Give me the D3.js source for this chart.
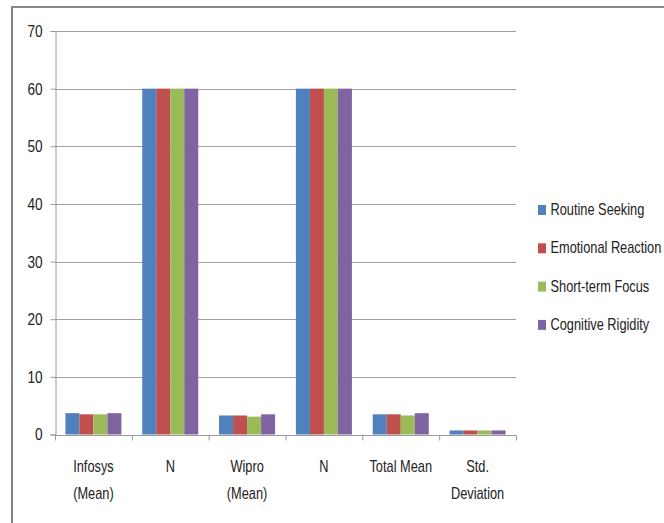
<!DOCTYPE html>
<html>
<head>
<meta charset="utf-8">
<script src="https://cdn.jsdelivr.net/npm/d3@7/dist/d3.min.js"></script>
<style>
  html, body { margin: 0; padding: 0; background: #fff; }
  svg { display: block; }
  text { font-family: "Liberation Sans", Arial, sans-serif; fill: #222; }
</style>
</head>
<body>
<svg id="chart" width="664" height="523"></svg>
<script>
const categories = [["Infosys", "(Mean)"], ["N"], ["Wipro", "(Mean)"], ["N"], ["Total Mean"], ["Std.", "Deviation"]];
const seriesNames = ["Routine Seeking", "Emotional Reaction", "Short-term Focus", "Cognitive Rigidity"];
const seriesColors = ["#4F81BD", "#C0504D", "#9BBB59", "#8064A2"];
const routineSeeking    = [3.7, 60, 3.3, 60, 3.5, 0.7];
const emotionalReaction = [3.5, 60, 3.3, 60, 3.5, 0.7];
const shortTermFocus    = [3.5, 60, 3.1, 60, 3.3, 0.7];
const cognitiveRigidity = [3.7, 60, 3.5, 60, 3.7, 0.7];
const yTicks = [0, 10, 20, 30, 40, 50, 60, 70];

const series = [routineSeeking, emotionalReaction, shortTermFocus, cognitiveRigidity];

const svg = d3.select("#chart");
const plotLeft = 55, plotRight = 516, plotTop = 31, plotBottom = 434.5;
const SX = 0.8;

// horizontally condense text (Calibri-like look) around its anchor point
function condense(sel) {
  sel.each(function() {
    const t = d3.select(this);
    const tx = +t.attr("x") || 0, ty = +t.attr("y") || 0;
    t.attr("x", 0).attr("y", 0).attr("transform", `translate(${tx},${ty}) scale(${SX},1)`);
    t.selectAll("tspan").attr("x", 0);
  });
}

// chart border (top and left visible)
svg.append("path")
  .attr("d", "M12,523 V7 H664")
  .attr("fill", "none").attr("stroke", "#878787").attr("stroke-width", 2);

const x = d3.scaleBand().domain(d3.range(categories.length)).range([plotLeft, plotRight]).paddingInner(0).paddingOuter(0);
const xs = d3.scaleBand().domain(d3.range(series.length)).range([0, x.bandwidth()]).paddingInner(0).paddingOuter(0.743);
const y = d3.scaleLinear().domain([0, 70]).range([plotBottom, plotTop]);

// gridlines
svg.append("g").selectAll("line").data(yTicks.filter(d => d > 0)).join("line")
  .attr("x1", plotLeft).attr("x2", plotRight)
  .attr("y1", d => Math.round(y(d)) + 0.5).attr("y2", d => Math.round(y(d)) + 0.5)
  .attr("stroke", "#a0a0a0").attr("stroke-width", 1);

// bars
const groups = svg.append("g").selectAll("g").data(categories).join("g")
  .attr("transform", (d, i) => `translate(${x(i)},0)`);
groups.selectAll("rect").data((d, i) => series.map((s, k) => ({k, v: s[i]}))).join("rect")
  .attr("x", d => xs(d.k))
  .attr("width", xs.bandwidth())
  .attr("y", d => y(d.v))
  .attr("height", d => y(0) - y(d.v))
  .attr("fill", d => seriesColors[d.k]);

// y axis
const yAxis = d3.axisLeft(y).tickValues(yTicks).tickSize(5).tickPadding(8);
const yg = svg.append("g").attr("transform", `translate(${plotLeft + 0.5},0)`).call(yAxis);
yg.select(".domain").attr("stroke", "#9a9a9a");
yg.selectAll(".tick line").attr("stroke", "#9a9a9a");
yg.selectAll(".tick text").attr("font-size", 17).attr("fill", "#222")
  .attr("font-family", "Liberation Sans, Arial, sans-serif").call(condense);

// x axis
const xLine = d3.scaleLinear().domain([0, categories.length]).range([plotLeft, plotRight]);
const xAxis = d3.axisBottom(xLine).tickValues(d3.range(categories.length + 1)).tickSize(5).tickFormat("");
const xg = svg.append("g").attr("transform", `translate(0,${Math.round(plotBottom) + 0.5})`).call(xAxis);
xg.select(".domain").attr("stroke", "#9a9a9a").attr("d", `M${plotLeft},0H${plotRight}`);
xg.selectAll(".tick line").attr("stroke", "#9a9a9a");

// x labels
const lbl = svg.append("g").selectAll("text").data(categories).join("text")
  .attr("x", (d, i) => x(i) + x.bandwidth() / 2)
  .attr("y", 472)
  .attr("text-anchor", "middle")
  .attr("font-size", 16);
lbl.selectAll("tspan").data(d => d).join("tspan")
  .attr("x", function() { return this.parentNode.getAttribute("x"); })
  .attr("dy", (d, j) => j === 0 ? 0 : 27)
  .text(d => d);
lbl.call(condense);

// legend
const leg = svg.append("g").selectAll("g").data(seriesNames).join("g")
  .attr("transform", (d, i) => `translate(538,${215 + i * 38.3})`);
leg.append("rect").attr("x", 0).attr("y", -10).attr("width", 8).attr("height", 10)
  .attr("fill", (d, i) => seriesColors[i]);
leg.append("text").attr("x", 12.5).attr("y", 0).attr("font-size", 16).text(d => d).call(condense);
</script>
</body>
</html>
